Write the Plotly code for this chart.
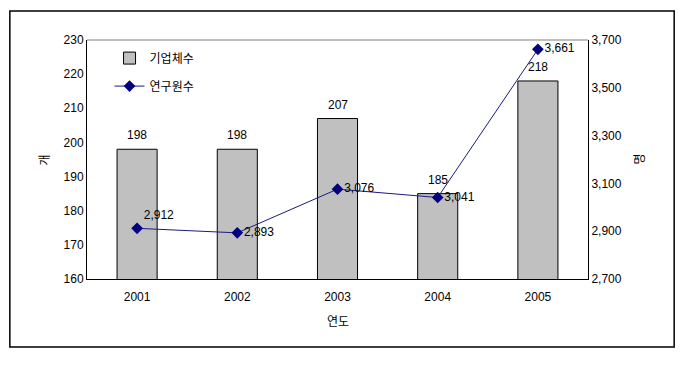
import plotly.graph_objects as go

years = ["2001", "2002", "2003", "2004", "2005"]
companies = [198, 198, 207, 185, 218]
researchers = [2912, 2893, 3076, 3041, 3661]
bar_name = "기업체수"
line_name = "연구원수"
left_title = "개"
right_title = "명"
x_title = "연도"

FONT = "Liberation Sans, Arial, Noto Sans CJK KR, sans-serif"

fig = go.Figure()
fig.add_trace(go.Bar(
    x=years, y=companies, name=bar_name, legendgroup="a",
    marker=dict(color="#C0C0C0", line=dict(color="#000000", width=1)),
    width=0.4, yaxis="y",
))
fig.add_trace(go.Scatter(
    x=years, y=researchers, name=line_name, legendgroup="b",
    mode="lines+markers+text",
    text=[f"{v:,}" for v in researchers],
    textposition=["top right", "middle right", "middle right", "middle right", "middle right"],
    textfont=dict(size=12, color="#000000", family=FONT),
    line=dict(color="#1A1A80", width=1),
    marker=dict(symbol="diamond", size=9, color="#000080"),
    yaxis="y2", cliponaxis=False,
))

annotations = []
for i, v in enumerate(companies):
    annotations.append(dict(x=i, y=v, xref="x", yref="y", text=str(v),
                            showarrow=False, yshift=14,
                            font=dict(size=12, family=FONT, color="#000")))
annotations += [
    dict(x=-0.102, y=0.5, xref="paper", yref="paper", text=left_title, textangle=-90,
         showarrow=False, font=dict(size=12, family=FONT)),
    dict(x=1.12, y=0.5, xref="paper", yref="paper", text=right_title, textangle=-90,
         showarrow=False, font=dict(size=12, family=FONT)),
    dict(x=0.5, y=-0.218, xref="paper", yref="paper", text=x_title,
         showarrow=False, font=dict(size=12, family=FONT)),
]

fig.update_layout(
    width=684, height=376,
    margin=dict(l=79, r=104, t=32, b=105),
    paper_bgcolor="white", plot_bgcolor="white",
    font=dict(family=FONT, size=12, color="#000"),
    showlegend=True,
    legend=dict(x=0.045, y=0.985, xanchor="left", yanchor="top",
                bgcolor="rgba(0,0,0,0)", font=dict(size=12, family=FONT),
                traceorder="grouped", tracegroupgap=9, itemwidth=30),
    xaxis=dict(type="category", range=[-0.5, len(years) - 0.5], showline=True,
               linecolor="#000", linewidth=1, showgrid=False,
               ticks="", ticklabelstandoff=7, tickfont=dict(size=12)),
    yaxis=dict(range=[160, 230], dtick=10, showline=True, linecolor="#000", linewidth=1,
               showgrid=False, ticks="", zeroline=False, tickfont=dict(size=12)),
    yaxis2=dict(range=[2700, 3700], tick0=2700, dtick=200, overlaying="y", side="right",
                showline=True, linecolor="#000", linewidth=1, showgrid=False,
                ticks="", zeroline=False, tickformat=",d", tickfont=dict(size=12)),
    annotations=annotations,
    shapes=[
        dict(type="line", xref="paper", yref="paper", x0=0, x1=1, y0=1, y1=1,
             line=dict(color="#808080", width=1)),
        dict(type="rect", xref="paper", yref="paper", x0=-0.154, x1=1.172,
             y0=-0.285, y1=1.121, line=dict(color="#000", width=1.5)),
    ],
)

fig.write_html("out.html")
